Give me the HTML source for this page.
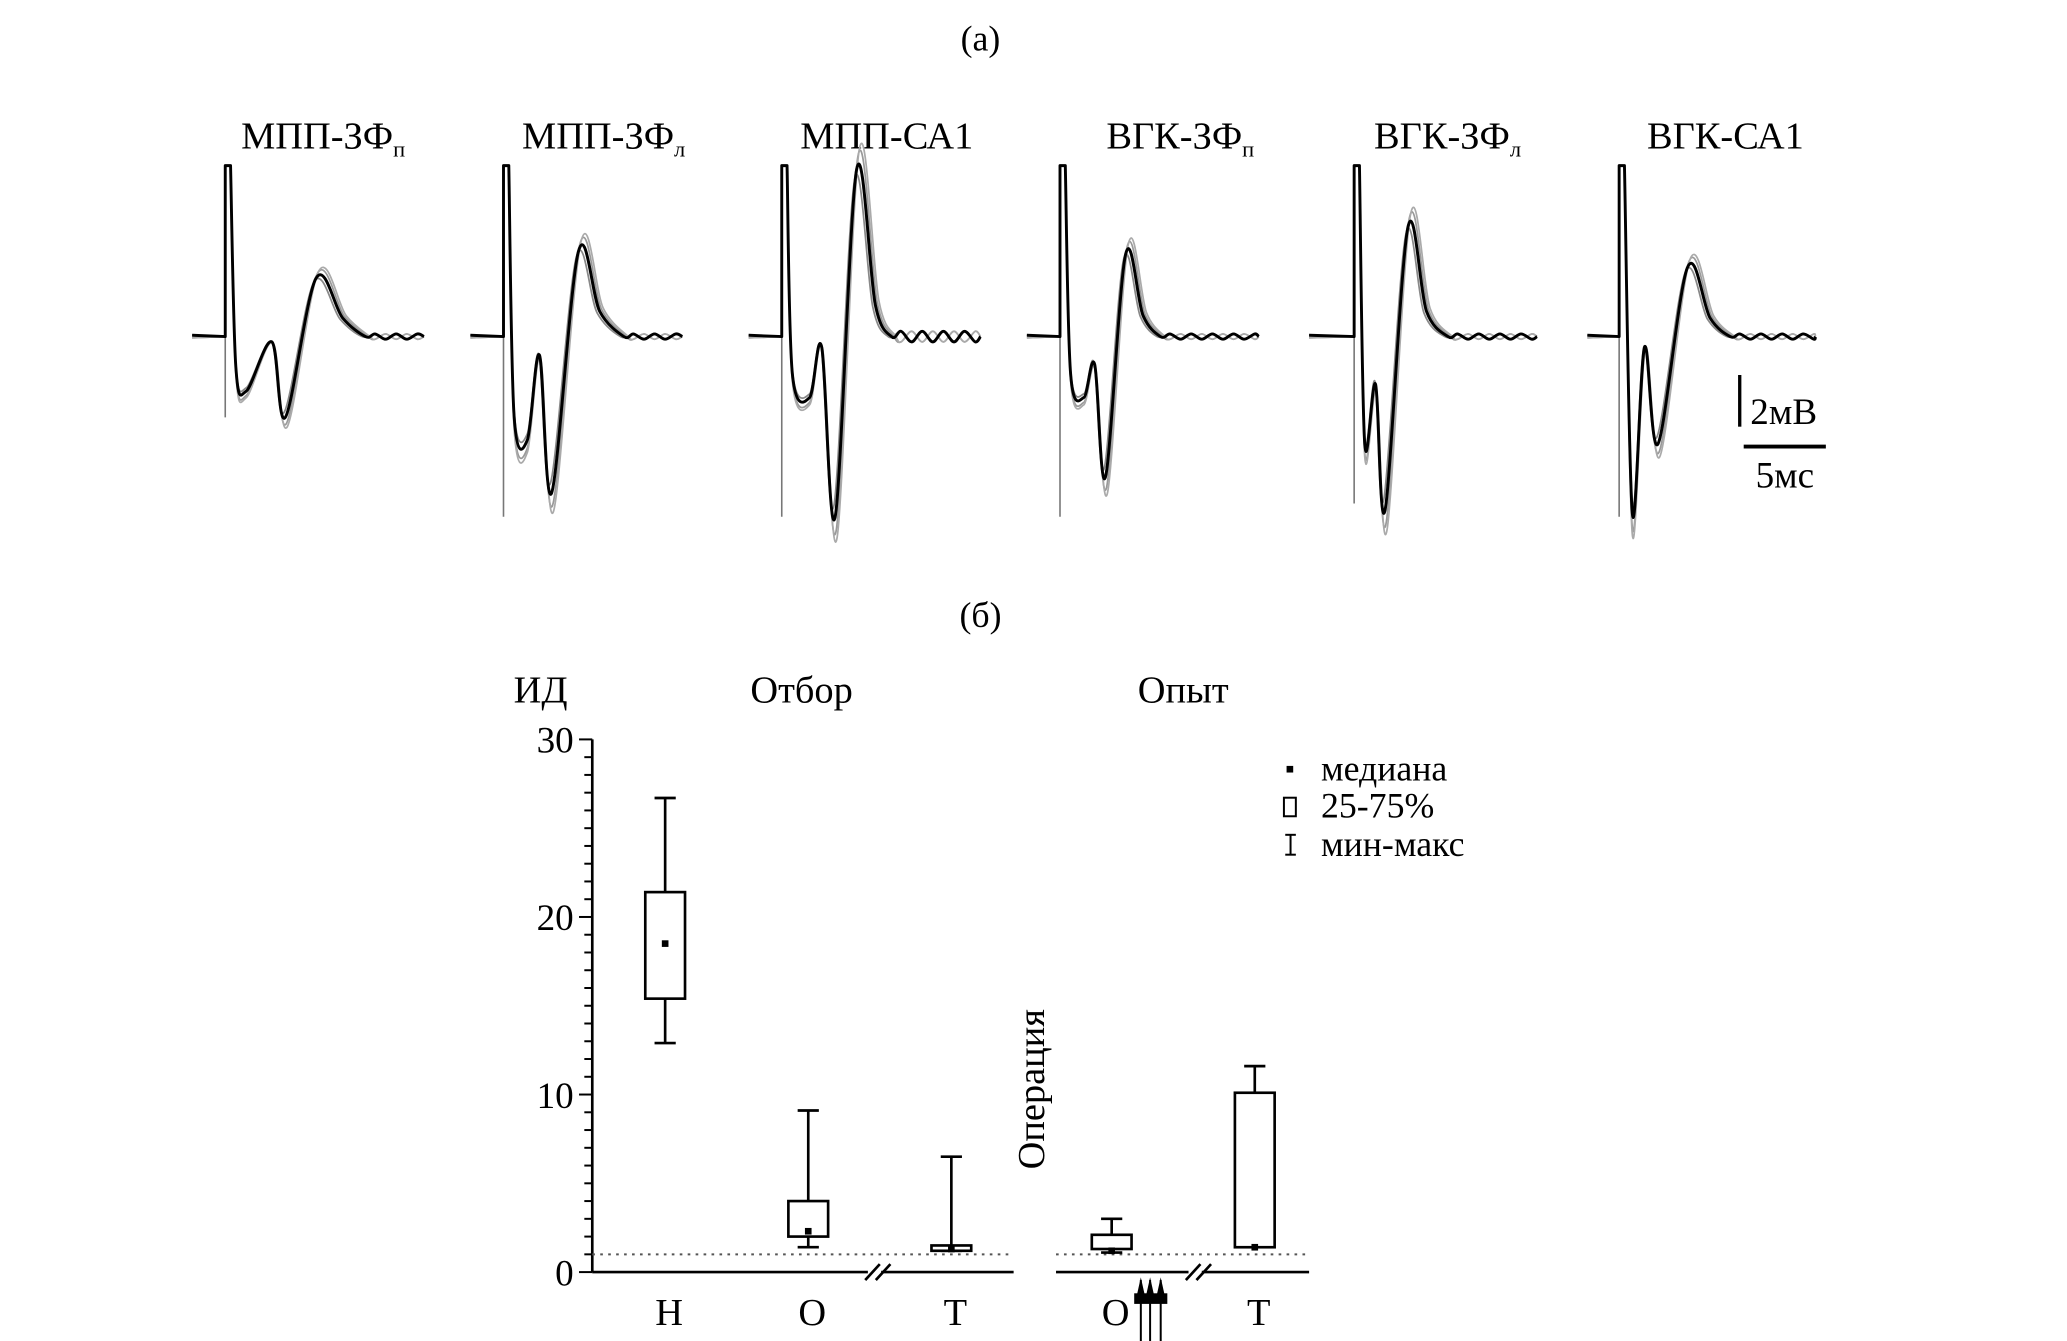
<!DOCTYPE html>
<html><head><meta charset="utf-8"><style>
html,body{margin:0;padding:0;background:#fff}
svg{display:block}
text{font-family:"Liberation Serif","Noto Serif CJK SC",serif;fill:#000}
</style></head><body>
<svg id="fig" width="2067" height="1341" viewBox="0 0 1560 1012" preserveAspectRatio="none">
<text x="740" y="38" font-size="27" text-anchor="middle">(а)</text>
<text x="740" y="473" font-size="27" text-anchor="middle">(б)</text>
<g font-size="29">
<text x="182" y="112">МПП-ЗФ<tspan font-size="17" dy="6">п</tspan></text>
<text x="394" y="112">МПП-ЗФ<tspan font-size="17" dy="6">л</tspan></text>
<text x="604" y="112">МПП-СА1</text>
<text x="835" y="112">ВГК-ЗФ<tspan font-size="17" dy="6">п</tspan></text>
<text x="1037" y="112">ВГК-ЗФ<tspan font-size="17" dy="6">л</tspan></text>
<text x="1243" y="112">ВГК-СА1</text>
</g>
<g id="traces"></g>
<g>
<line x1="1313" y1="283" x2="1313" y2="322" stroke="#000" stroke-width="2.5"/>
<line x1="1316" y1="337" x2="1378" y2="337" stroke="#000" stroke-width="3"/>
<text x="1321" y="320" font-size="28">2мВ</text>
<text x="1325" y="368" font-size="28">5мс</text>
</g>
<g id="box"></g>
</svg>
<script>
// ---- Box plot data ----
const cats=["Н","О","Т","О","Т"];
const groupX=[502,610,718,839,947];
const mins=[12.9,1.4,1.2,1.1,1.4];
const q1s=[15.4,2.0,1.2,1.3,1.4];
const meds=[18.5,2.3,1.3,1.2,1.4];
const q3s=[21.4,4.0,1.5,2.1,10.1];
const maxs=[26.7,9.1,6.5,3.0,11.6];
const yTicks=[0,10,20,30];
// ---- waveform data (display coords) ----
const waveStarts=[145,355,565,775,988,1198];
const waveStim=[170,380,590,800,1022,1222];
const waveStimBottom=[315,390,390,390,380,390];
const waveEnds=[320,515,740,950,1160,1370];
const waveShapes=[
 [[186,295],[205,258],[215,315],[238,210],[258,240],[275,254]],
 [[398,332],[407,268],[416,372],[436,190],[452,235],[470,254]],
 [[611,300],[620,262],[630,390],[646,128],[660,230],[672,254]],
 [[818,300],[826,275],[834,360],[849,192],[862,238],[875,254]],
 [[1030,335],[1038,290],[1045,385],[1062,172],[1076,235],[1092,254]],
 [[1232,388],[1241,262],[1251,335],[1273,202],[1290,240],[1305,254]]
];
const NS="http://www.w3.org/2000/svg";
function mk(t,a,p){const e=document.createElementNS(NS,t);for(const k in a)e.setAttribute(k,a[k]);p.appendChild(e);return e;}
function smooth(pts){let d="";
 for(let i=0;i<pts.length-1;i++){const p0=pts[i-1]||pts[i],p1=pts[i],p2=pts[i+1],p3=pts[i+2]||p2;
  d+=" C"+(p1[0]+(p2[0]-p0[0])/6)+","+(p1[1]+(p2[1]-p0[1])/6)+" "+(p2[0]-(p3[0]-p1[0])/6)+","+(p2[1]-(p3[1]-p1[1])/6)+" "+p2[0]+","+p2[1];}
 return d;}
const tg=document.getElementById('traces');
const variants=[[0,1,'#999',1.3],[3,1.08,'#999',1.3],[-2,0.94,'#888',1.3],[5,1.12,'#aaa',1.3],[1,1.0,'#000',2.2]];
waveShapes.forEach((sh,pi)=>{
 const base=254,s=waveStim[pi];
 mk('line',{x1:s,y1:125,x2:s,y2:waveStimBottom[pi],stroke:'#777','stroke-width':1.2},tg);
 variants.forEach((v,vi)=>{
  const top=[s+4,125];
  const pts=[top];
  const d0=sh[0];
  const dipY=base+(d0[1]-base)*v[1];
  if(d0[0]-s>12) pts.push([s+8,dipY-18]);
  sh.forEach((p,i)=>{pts.push([p[0]+(i>0?v[0]*(i/sh.length):0),base+(p[1]-base)*v[1]]);});
  let x=sh[sh.length-1][0]+8,k=0;
  while(x<waveEnds[pi]){pts.push([x,base+((k+vi)%2?2:-2)*(pi==2?2:1)]);x+=8;k++;}
  pts.push([waveEnds[pi],base]);
  const jit=(vi%2?1:-1);
  const d=`M${waveStarts[pi]},${base+jit} L${s},${base} L${s},125 L${top[0]},125`+smooth(pts);
  const p=mk('path',{d:d,fill:'none',stroke:v[2],'stroke-width':v[3],'stroke-linejoin':'round'},tg);
  
  
 });
});
// ---- box plot ----
const bg=document.getElementById('box');
const AX=447,Y0=960,PX=13.4;
function yv(v){return Y0-v*PX;}
mk('line',{x1:AX,y1:yv(30),x2:AX,y2:Y0,stroke:'#000','stroke-width':2},bg);
for(let t=0;t<=30;t++){mk('line',{x1:AX-(t%10==0?10:6),y1:yv(t),x2:AX,y2:yv(t),stroke:'#000','stroke-width':1.5},bg);}
yTicks.forEach(t=>{const e=mk('text',{x:AX-14,y:yv(t)+10,'font-size':28,'text-anchor':'end'},bg);e.textContent=t;
 
 });
[[AX,655],[665,765],[797,897],[907,988]].forEach(s=>mk('line',{x1:s[0],y1:Y0,x2:s[1],y2:Y0,stroke:'#000','stroke-width':2},bg));
[[653,664],[661,672],[895,906],[903,914]].forEach(s=>mk('line',{x1:s[0],y1:Y0+6,x2:s[1],y2:Y0-6,stroke:'#000','stroke-width':2},bg));
[[AX,765],[797,988]].forEach(s=>mk('line',{x1:s[0],y1:yv(1),x2:s[1],y2:yv(1),stroke:'#555','stroke-width':1.5,'stroke-dasharray':'2,4'},bg));
cats.forEach((c,i)=>{const x=groupX[i],w=15;
 const g=mk('g',{},bg);
 
 
 mk('line',{x1:x,y1:yv(maxs[i]),x2:x,y2:yv(q3s[i]),stroke:'#000','stroke-width':2},g);
 mk('line',{x1:x,y1:yv(q1s[i]),x2:x,y2:yv(mins[i]),stroke:'#000','stroke-width':2},g);
 mk('line',{x1:x-8,y1:yv(maxs[i]),x2:x+8,y2:yv(maxs[i]),stroke:'#000','stroke-width':2},g);
 mk('line',{x1:x-8,y1:yv(mins[i]),x2:x+8,y2:yv(mins[i]),stroke:'#000','stroke-width':2},g);
 mk('rect',{x:x-w,y:yv(q3s[i]),width:2*w,height:Math.max(2,yv(q1s[i])-yv(q3s[i])),fill:'#fff',stroke:'#000','stroke-width':2},g);
 mk('rect',{x:x-2.5,y:yv(meds[i])-2.5,width:5,height:5,fill:'#000'},g);
 const t=mk('text',{x:x+3,y:1000,'font-size':29,'text-anchor':'middle'},bg);t.textContent=c;
 
 
});
[861,868,876].forEach(x=>{mk('line',{x1:x,y1:966,x2:x,y2:1012,stroke:'#000','stroke-width':1.5},bg);
 mk('path',{d:`M${x-4},${982} L${x},${964} L${x+4},${982}Z`,fill:'#000'},bg);});
mk('rect',{x:856,y:976,width:25,height:8,fill:'#000'},bg);
function tx(s,a){const e=mk('text',a,bg);e.textContent=s;return e;}
let e;
e=tx("ИД",{x:408,y:530,'font-size':29,'text-anchor':'middle'});
e=tx("Отбор",{x:605,y:530,'font-size':29,'text-anchor':'middle'});
e=tx("Опыт",{x:893,y:530,'font-size':29,'text-anchor':'middle'});
e=tx("Операция",{x:0,y:0,'font-size':29,'text-anchor':'middle',transform:'translate(788,822) rotate(-90)'});
const lg=mk('g',{},bg);


mk('rect',{x:971,y:578,width:5,height:5,fill:'#000'},lg);
mk('rect',{x:969,y:602,width:9,height:14,fill:'#fff',stroke:'#000','stroke-width':1.5},lg);
mk('line',{x1:974,y1:630,x2:974,y2:645,stroke:'#000','stroke-width':1.5},lg);
mk('line',{x1:970,y1:630,x2:978,y2:630,stroke:'#000','stroke-width':1.5},lg);
mk('line',{x1:970,y1:645,x2:978,y2:645,stroke:'#000','stroke-width':1.5},lg);
[["медиана",589],["25-75%",617],["мин-макс",646]].forEach(a=>{const t=mk('text',{x:997,y:a[1],'font-size':27},lg);t.textContent=a[0];
 
 });
</script>
</body></html>
